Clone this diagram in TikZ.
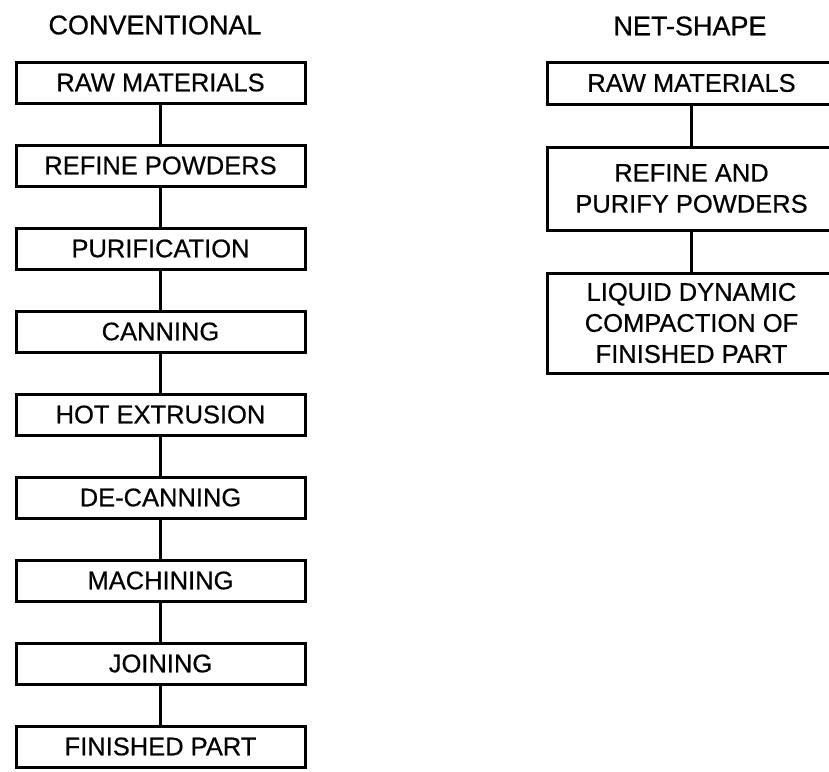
\documentclass[tikz,border=0pt]{standalone}
\usepackage{fontspec}
\setmainfont{Liberation Sans}[FakeBold=0.5]
\begin{document}
\begin{tikzpicture}[x=1pt,y=-1pt,
  lbl/.style={font=\fontsize{27}{31}\selectfont, inner sep=0pt},
  box/.style={draw, line width=3pt, minimum width=289pt, minimum height=41pt,
    inner sep=0pt, align=center, font=\fontsize{25.5}{31}\selectfont},
  link/.style={line width=3pt}]
\useasboundingbox (0,0) rectangle (829,771);
\clip (0,0) rectangle (829,771);
% titles
\node[lbl] (tc) at (155,25) {CONVENTIONAL};
\node[lbl] (tn) at (690,26) {NET-SHAPE};
% conventional column
\node[box] (c1) at (160.5,82.5) {RAW MATERIALS};
\node[box] (c2) at (160.5,165.5) {REFINE POWDERS};
\node[box] (c3) at (160.5,248.5) {PURIFICATION};
\node[box] (c4) at (160.5,331.5) {CANNING};
\node[box] (c5) at (160.5,414.5) {HOT EXTRUSION};
\node[box] (c6) at (160.5,497.5) {DE-CANNING};
\node[box] (c7) at (160.5,580.5) {MACHINING};
\node[box] (c8) at (160.5,663.5) {JOINING};
\node[box] (c9) at (160.5,746.5) {FINISHED PART};
\foreach \a/\b in {c1/c2,c2/c3,c3/c4,c4/c5,c5/c6,c6/c7,c7/c8,c8/c9}
  \draw[link] (\a) -- (\b);
% net-shape column
\node[box, minimum height=42pt] (n1) at (691.5,83) {RAW MATERIALS};
\node[box, minimum height=83pt] (n2) at (691.5,188.5) {REFINE AND\\PURIFY POWDERS};
\node[box, minimum height=100pt] (n3) at (691.5,323) {LIQUID DYNAMIC\\COMPACTION OF\\FINISHED PART};
\draw[link] (n1) -- (n2);
\draw[link] (n2) -- (n3);
\end{tikzpicture}
\end{document}
